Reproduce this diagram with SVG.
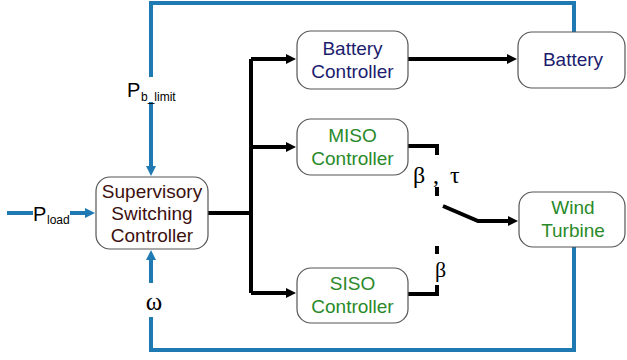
<svg xmlns="http://www.w3.org/2000/svg" width="627" height="360" viewBox="0 0 627 360">
<style>
.box{fill:#fff;stroke:#555;stroke-width:1.2}
.t{font-family:"Liberation Sans",Arial,sans-serif;font-size:19px;text-anchor:middle}
.navy{fill:#1c1c6e}
.green{fill:#2a8a2a}
.brown{fill:#3d1010}
.k{fill:none;stroke:#000;stroke-width:4;stroke-linejoin:miter}
.b{fill:none;stroke:#1f7ab3;stroke-width:4;stroke-linejoin:miter}
.sym{font-family:"Liberation Serif","Times New Roman",serif;fill:#000}
.lbl{font-family:"Liberation Sans",Arial,sans-serif;fill:#000}
</style>
<defs>
<marker id="ak" viewBox="0 0 10 10" refX="1" refY="5" markerWidth="11" markerHeight="10" markerUnits="userSpaceOnUse" orient="auto"><path d="M0,0 L10,5 L0,10 z" fill="#000"/></marker>
<marker id="ab" viewBox="0 0 10 10" refX="1" refY="5" markerWidth="11" markerHeight="10" markerUnits="userSpaceOnUse" orient="auto"><path d="M0,0 L10,5 L0,10 z" fill="#1f7ab3"/></marker>
</defs>
<g id="connectors">
<path class="b" d="M151 77 V3 H574 V32"/>
<path class="b" d="M151 102 V167" marker-end="url(#ab)"/>
<path class="b" d="M574 247 V350 H151 V317"/>
<path class="b" d="M151 283 V259" marker-end="url(#ab)"/>
<path class="b" d="M7 213 H33"/>
<path class="b" d="M70 213 H86" marker-end="url(#ab)"/>
<path class="k" d="M208 213 H251"/>
<path class="k" d="M251 59 V293"/>
<path class="k" d="M251 59 H287" marker-end="url(#ak)"/>
<path class="k" d="M251 147 H287" marker-end="url(#ak)"/>
<path class="k" d="M251 293 H287" marker-end="url(#ak)"/>
<path class="k" d="M408 59 H508" marker-end="url(#ak)"/>
<path class="k" d="M408 146 H437 V155"/>
<path class="k" d="M437 187 V196"/>
<path class="k" d="M437 246 V254"/>
<path class="k" d="M408 294 H437 V285"/>
<path class="k" d="M443 206 L478 221 H509" marker-end="url(#ak)"/>
<text class="lbl" x="127" y="97" font-size="20">P</text>
<text class="lbl" x="141" y="101" font-size="12">b_limit</text>
<text class="lbl" x="33" y="221" font-size="20">P</text>
<text class="lbl" x="47" y="224" font-size="12">load</text>
<text class="sym" x="154" y="310" font-size="25" text-anchor="middle">ω</text>
<text class="sym" y="183" font-size="24"><tspan x="413">β</tspan><tspan x="433">,</tspan><tspan x="450">τ</tspan></text>
<text class="sym" x="435" y="277" font-size="22">β</text>
</g>
<g id="supervisory">
<rect class="box" x="96" y="177" width="112" height="72" rx="14"/>
<text class="t brown" x="152" y="198">Supervisory</text>
<text class="t brown" x="152" y="220">Switching</text>
<text class="t brown" x="152" y="242">Controller</text>
</g>
<g id="battery-controller">
<rect class="box" x="297" y="31" width="111" height="58" rx="14"/>
<text class="t navy" x="352.5" y="55">Battery</text>
<text class="t navy" x="352.5" y="78">Controller</text>
</g>
<g id="miso-controller">
<rect class="box" x="297" y="119" width="111" height="56" rx="14"/>
<text class="t green" x="352.5" y="142">MISO</text>
<text class="t green" x="352.5" y="165">Controller</text>
</g>
<g id="siso-controller">
<rect class="box" x="297" y="268" width="111" height="55" rx="14"/>
<text class="t green" x="352.5" y="290">SISO</text>
<text class="t green" x="352.5" y="313">Controller</text>
</g>
<g id="battery">
<rect class="box" x="518" y="32" width="107" height="56" rx="14"/>
<text class="t navy" x="573" y="66">Battery</text>
</g>
<g id="wind-turbine">
<rect class="box" x="519" y="192" width="106" height="55" rx="14"/>
<text class="t green" x="573" y="214">Wind</text>
<text class="t green" x="573" y="237">Turbine</text>
</g>
</svg>
